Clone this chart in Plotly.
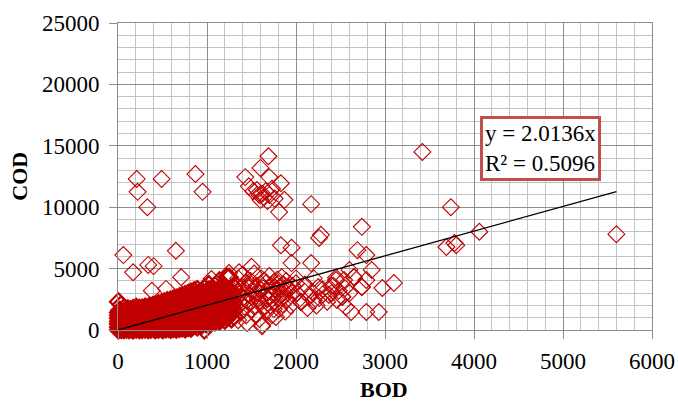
import plotly.graph_objects as go

# ---- data ----
# dense core: (BOD, [COD values]) columns
core_columns = [
    (5, [0, 220, 480, 700, 950, 1180, 1420, 2300]),
    (20, [110, 350, 590, 820, 1060, 1300, 1600]),
    (35, [40, 260, 510, 760, 990, 1240, 1500, 2050]),
    (50, [150, 400, 640, 880, 1120, 1380]),
    (65, [20, 290, 530, 780, 1010, 1260, 1520, 1800]),
    (80, [180, 420, 670, 900, 1150, 1400]),
    (95, [60, 310, 560, 810, 1050, 1290, 1560]),
    (110, [200, 450, 690, 940, 1190, 1450, 1720]),
    (125, [30, 270, 520, 770, 1020, 1260, 1500]),
    (140, [160, 400, 650, 890, 1130, 1380, 1650]),
    (155, [80, 330, 580, 820, 1070, 1320, 1580]),
    (170, [10, 240, 490, 740, 990, 1230, 1480, 1760]),
    (190, [150, 390, 640, 880, 1130, 1370, 1620]),
    (205, [60, 300, 550, 800, 1040, 1290, 1540, 1850]),
    (220, [200, 440, 690, 930, 1180, 1420, 1690]),
    (240, [20, 280, 520, 770, 1010, 1260, 1510, 1770]),
    (255, [130, 380, 620, 870, 1120, 1360, 1610]),
    (270, [50, 300, 550, 790, 1040, 1290, 1540, 1800]),
    (290, [180, 420, 670, 920, 1160, 1410, 1660]),
    (305, [70, 320, 570, 810, 1060, 1310, 1560, 1880]),
    (320, [210, 460, 700, 950, 1200, 1450, 1700]),
    (340, [30, 280, 530, 780, 1020, 1270, 1520, 1780]),
    (355, [150, 400, 650, 900, 1140, 1390, 1640, 1950]),
    (370, [60, 320, 570, 820, 1060, 1310, 1560, 1810]),
    (390, [200, 450, 700, 950, 1190, 1440, 1690, 2000]),
    (405, [90, 340, 590, 840, 1080, 1330, 1580, 1840]),
    (420, [20, 240, 490, 740, 990, 1230, 1480, 1730, 2050]),
    (440, [150, 400, 650, 900, 1150, 1390, 1640, 1900]),
    (455, [60, 310, 560, 810, 1060, 1300, 1550, 1800, 2150]),
    (470, [210, 460, 710, 960, 1200, 1450, 1700, 1960]),
    (490, [100, 350, 600, 850, 1100, 1350, 1600, 1850, 2200]),
    (505, [30, 260, 510, 760, 1010, 1260, 1510, 1760, 2030]),
    (520, [170, 420, 670, 920, 1170, 1420, 1670, 1920, 2300]),
    (540, [80, 330, 580, 830, 1080, 1330, 1580, 1830, 2100]),
    (555, [240, 490, 740, 990, 1240, 1490, 1740, 2000, 2400]),
    (570, [120, 370, 620, 870, 1120, 1370, 1620, 1870, 2180]),
    (590, [40, 290, 540, 790, 1040, 1290, 1540, 1790, 2050, 2450]),
    (605, [200, 450, 700, 950, 1200, 1450, 1700, 1960, 2250]),
    (620, [110, 360, 610, 860, 1110, 1360, 1610, 1860, 2130, 2500]),
    (640, [270, 520, 770, 1020, 1270, 1520, 1770, 2030, 2330]),
    (655, [60, 180, 430, 680, 930, 1180, 1430, 1680, 1940, 2220, 2600]),
    (670, [330, 580, 830, 1080, 1330, 1580, 1830, 2100, 2400]),
    (690, [120, 250, 500, 750, 1000, 1250, 1500, 1750, 2010, 2300, 2700]),
    (705, [400, 650, 900, 1150, 1400, 1650, 1900, 2170, 2480]),
    (720, [160, 320, 570, 820, 1070, 1320, 1570, 1820, 2080, 2380, 2800]),
    (740, [460, 710, 960, 1210, 1460, 1710, 1970, 2250, 2560]),
    (755, [90, 250, 380, 630, 880, 1130, 1380, 1630, 1890, 2150, 2460, 2900]),
    (770, [520, 770, 1020, 1270, 1520, 1770, 2030, 2310, 2640]),
    (790, [200, 440, 690, 940, 1190, 1440, 1690, 1950, 2220, 2540, 3000]),
    (805, [330, 580, 830, 1080, 1330, 1580, 1840, 2100, 2400, 2720]),
    (820, [150, 470, 720, 970, 1220, 1470, 1720, 1980, 2270, 2600, 3100]),
    (840, [280, 620, 870, 1120, 1370, 1620, 1880, 2150, 2460, 2800]),
    (855, [400, 760, 1010, 1260, 1510, 1760, 2020, 2320, 2660, 3200]),
    (870, [530, 700, 900, 1150, 1400, 1650, 1910, 2190, 2520, 2880]),
    (890, [250, 640, 820, 1050, 1300, 1550, 1810, 2080, 2400, 2750, 3300]),
    (905, [480, 760, 960, 1200, 1450, 1710, 1980, 2280, 2620, 3000]),
    (920, [600, 880, 1110, 1350, 1600, 1870, 2160, 2480, 2850]),
    (940, [380, 720, 1000, 1250, 1500, 1770, 2050, 2370, 2720, 3150]),
    (955, [560, 840, 1120, 1390, 1650, 1930, 2250, 2600, 2980]),
    (970, [0, 680, 960, 1240, 1520, 1800, 2100, 2450, 2850, 3400]),
    (990, [500, 800, 1080, 1360, 1640, 1940, 2280, 2670, 3100]),
    (1005, [620, 920, 1210, 1500, 1790, 2110, 2480, 2900]),
    (1020, [750, 1040, 1330, 1630, 1950, 2300, 2700, 3250, 3700]),
    (1040, [560, 860, 1160, 1460, 1780, 2120, 2520, 2980]),
    (1055, [700, 1000, 1300, 1620, 1970, 2350, 2780, 3300]),
    (1070, [830, 1130, 1440, 1780, 2150, 2580, 3050]),
    (1090, [650, 960, 1280, 1620, 1990, 2400, 2850, 3600]),
    (1105, [800, 1100, 1430, 1800, 2200, 2650, 3150]),
    (1120, [940, 1260, 1600, 1980, 2420, 2900]),
    (1140, [720, 1060, 1420, 1810, 2250, 2720, 3350, 4000]),
    (1160, [880, 1240, 1630, 2070, 2550, 3100]),
    (1180, [1050, 1430, 1850, 2320, 2850, 3500]),
    (1200, [800, 1200, 1620, 2100, 2650, 3250]),
    (1225, [1000, 1400, 1850, 2350, 2950, 4320]),
    (1250, [1150, 1600, 2100, 2650, 3300, 4300]),
    (1275, [900, 1350, 1850, 2400, 3000]),
    (1300, [1100, 1600, 2150, 2750, 3500]),
]

# scattered points outside the core
bod_scatter = [
    1320, 1340, 1350, 1360, 1380, 1390, 1400, 1410, 1420, 1430, 1440, 1450,
    1460, 1470, 1480, 1490, 1500, 1510, 1520, 1530, 1540, 1550, 1560, 1570,
    1580, 1590, 1600, 1610, 1620, 1630, 1640, 1650, 1660, 1670, 1680, 1690,
    1700, 1710, 1720, 1730, 1740, 1750, 1760, 1775, 1780, 1790, 1800, 1810,
    1820, 1830, 1840, 1850, 1860, 1870, 1880, 1890, 1900, 1920, 1940, 1960,
    1980, 2000, 2010, 1350, 1400, 1450, 1500, 1550, 1600, 1650, 1700, 1750,
    1800, 1850, 1900, 1618,
    2050, 2100, 2150, 2180, 2200, 2250, 2260, 2300, 2370, 2400, 2460, 2450,
    2520, 2540, 2100, 2200, 2300, 2350, 2420, 2480, 2550, 2600, 2650, 2740,
    2790, 2970, 3100, 2620, 2790, 2930, 2060, 2130, 2230, 2000, 2560, 2600,
    2690, 2790, 2850, 2740, 2650, 2520, 2400,
    210, 490, 220, 330, 870, 950, 1430, 1600, 1690, 1700, 1830, 1560,
    1470, 1520, 1590, 1620, 1640, 1660, 1700, 1730, 1760, 1600, 1680,
    1870, 1810, 2170, 2280,
    60, 170, 340, 400, 650, 710, 380, 540, 1050, 1190, 1247, 1360, 1500,
    1830, 1950, 1950, 2170, 2260, 2450,
    2740, 3420, 3690, 3780, 3740, 4060, 5600, 3800,
]
cod_scatter = [
    2900, 3600, 4200, 2300, 1500, 3100, 4500, 2600, 1900, 3800, 1200, 570,
    2900, 3400, 2200, 4000, 1700, 2700, 3200, 4600, 2000, 1300, 3600, 2500,
    3000, 900, 2200, 4200, 400, 3400, 1800, 2800, 3800, 1500, 2500, 3200,
    4400, 2000, 3600, 1200, 2900, 3900, 2300, 1060, 3300, 4100, 2600, 1700,
    3500, 2900, 4300, 2100, 3700, 3100, 1500, 4000, 2500, 3300, 2000, 3600,
    2800, 4200, 3000, 800, 3500, 2400, 3700, 2800, 3300, 4000, 2800, 1700,
    3800, 2600, 3400, 300,
    2300, 3100, 2700, 3100, 2400, 3500, 2600, 2900, 2850, 3000, 2450, 4070,
    2700, 4070, 3700, 4200, 3300, 2300, 3600, 3200, 3400, 3000, 4300, 3500,
    4070, 3420, 3830, 1470, 1470, 1470, 2280, 1800, 2000, 3800, 1870, 4890,
    6500, 6100, 4890, 8400, 4320, 2690, 3600,
    12300, 12300, 11250, 10000, 12700, 11250, 12450, 13200, 14150, 12450, 11950, 11400,
    11700, 11300, 11000, 11100, 10800, 11300, 11000, 11500, 10700, 10600, 10500,
    10600, 9600, 10250, 7750,
    6100, 4700, 5300, 5200, 6450, 4300, 3200, 3350, 4150, 3500, 4640, 4700, 5150,
    6900, 6700, 5450, 5450, 7500, 4250,
    3500, 14500, 6760, 7080, 10000, 8000, 7800, 6900,
]

# linear trend through the origin, as printed on the chart
trend_slope = 2.0136
trend_x = [0, 5600]
trend_label = "y = 2.0136x<br>R² = 0.5096"

x_ticks = [0, 1000, 2000, 3000, 4000, 5000, 6000]
y_ticks = [0, 5000, 10000, 15000, 20000, 25000]
x_title = "BOD"
y_title = "COD"

# ---- build ----
bod_core = []
cod_core = []
for b, cods in core_columns:
    for c in cods:
        bod_core.append(b)
        cod_core.append(c)

trend_y = [trend_slope * v for v in trend_x]

FONT = "Liberation Serif, Times New Roman, serif"
RED = "#C00000"

fig = go.Figure()
fig.add_trace(go.Scatter(
    x=bod_scatter, y=cod_scatter, mode="markers", cliponaxis=False,
    marker=dict(symbol="diamond-open", size=13, color=RED, line=dict(width=1.1, color=RED)),
    showlegend=False, hoverinfo="skip",
))
fig.add_trace(go.Scatter(
    x=bod_core, y=cod_core, mode="markers", cliponaxis=False,
    marker=dict(symbol="diamond-open", size=13, color=RED, line=dict(width=2.2, color=RED)),
    showlegend=False, hoverinfo="skip",
))
fig.add_trace(go.Scatter(
    x=trend_x, y=trend_y, mode="lines", cliponaxis=False,
    line=dict(color="black", width=1.3), showlegend=False, hoverinfo="skip",
))

axis_common = dict(
    showgrid=True, gridcolor="#8c8c8c", gridwidth=1,
    showline=True, linecolor="#8c8c8c", linewidth=1, mirror=True,
    ticks="outside", ticklen=8, tickcolor="#8c8c8c", tickwidth=1,
    zeroline=False, automargin=False,
    tickfont=dict(family=FONT, size=23, color="black"),
)

fig.update_xaxes(
    range=[0, 6000], tickvals=x_ticks, ticktext=[str(v) for v in x_ticks],
    minor=dict(dtick=200, showgrid=True, gridcolor="#c4c4c4", gridwidth=1, ticks=""),
    ticklabelstandoff=2,
    **axis_common,
)
fig.update_yaxes(
    range=[0, 25000], tickvals=y_ticks, ticktext=[str(v) for v in y_ticks],
    minor=dict(dtick=1000, showgrid=True, gridcolor="#c4c4c4", gridwidth=1, ticks=""),
    ticklabelstandoff=5,
    **axis_common,
)

# axis titles
fig.add_annotation(
    xref="paper", yref="paper", x=0.498, y=-0.193, xanchor="center", yanchor="middle",
    text="<b>" + x_title + "</b>", showarrow=False,
    font=dict(family=FONT, size=22, color="black"),
)
fig.add_annotation(
    xref="paper", yref="paper", x=-0.185, y=0.5, xanchor="center", yanchor="middle",
    text="<b>" + y_title + "</b>", showarrow=False, textangle=-90,
    font=dict(family=FONT, size=22, color="black"),
)

fig.add_annotation(
    xref="paper", yref="paper", x=0.792, y=0.591, xanchor="center", yanchor="middle",
    text=trend_label, showarrow=False, align="left",
    font=dict(family=FONT, size=23, color="black"),
    bordercolor="#C0504D", borderwidth=3, borderpad=2, bgcolor="white",
)

fig.update_layout(
    width=678, height=403,
    margin=dict(l=118, r=26, t=23, b=73),
    paper_bgcolor="white", plot_bgcolor="white",
)

fig.write_html("out.html")
